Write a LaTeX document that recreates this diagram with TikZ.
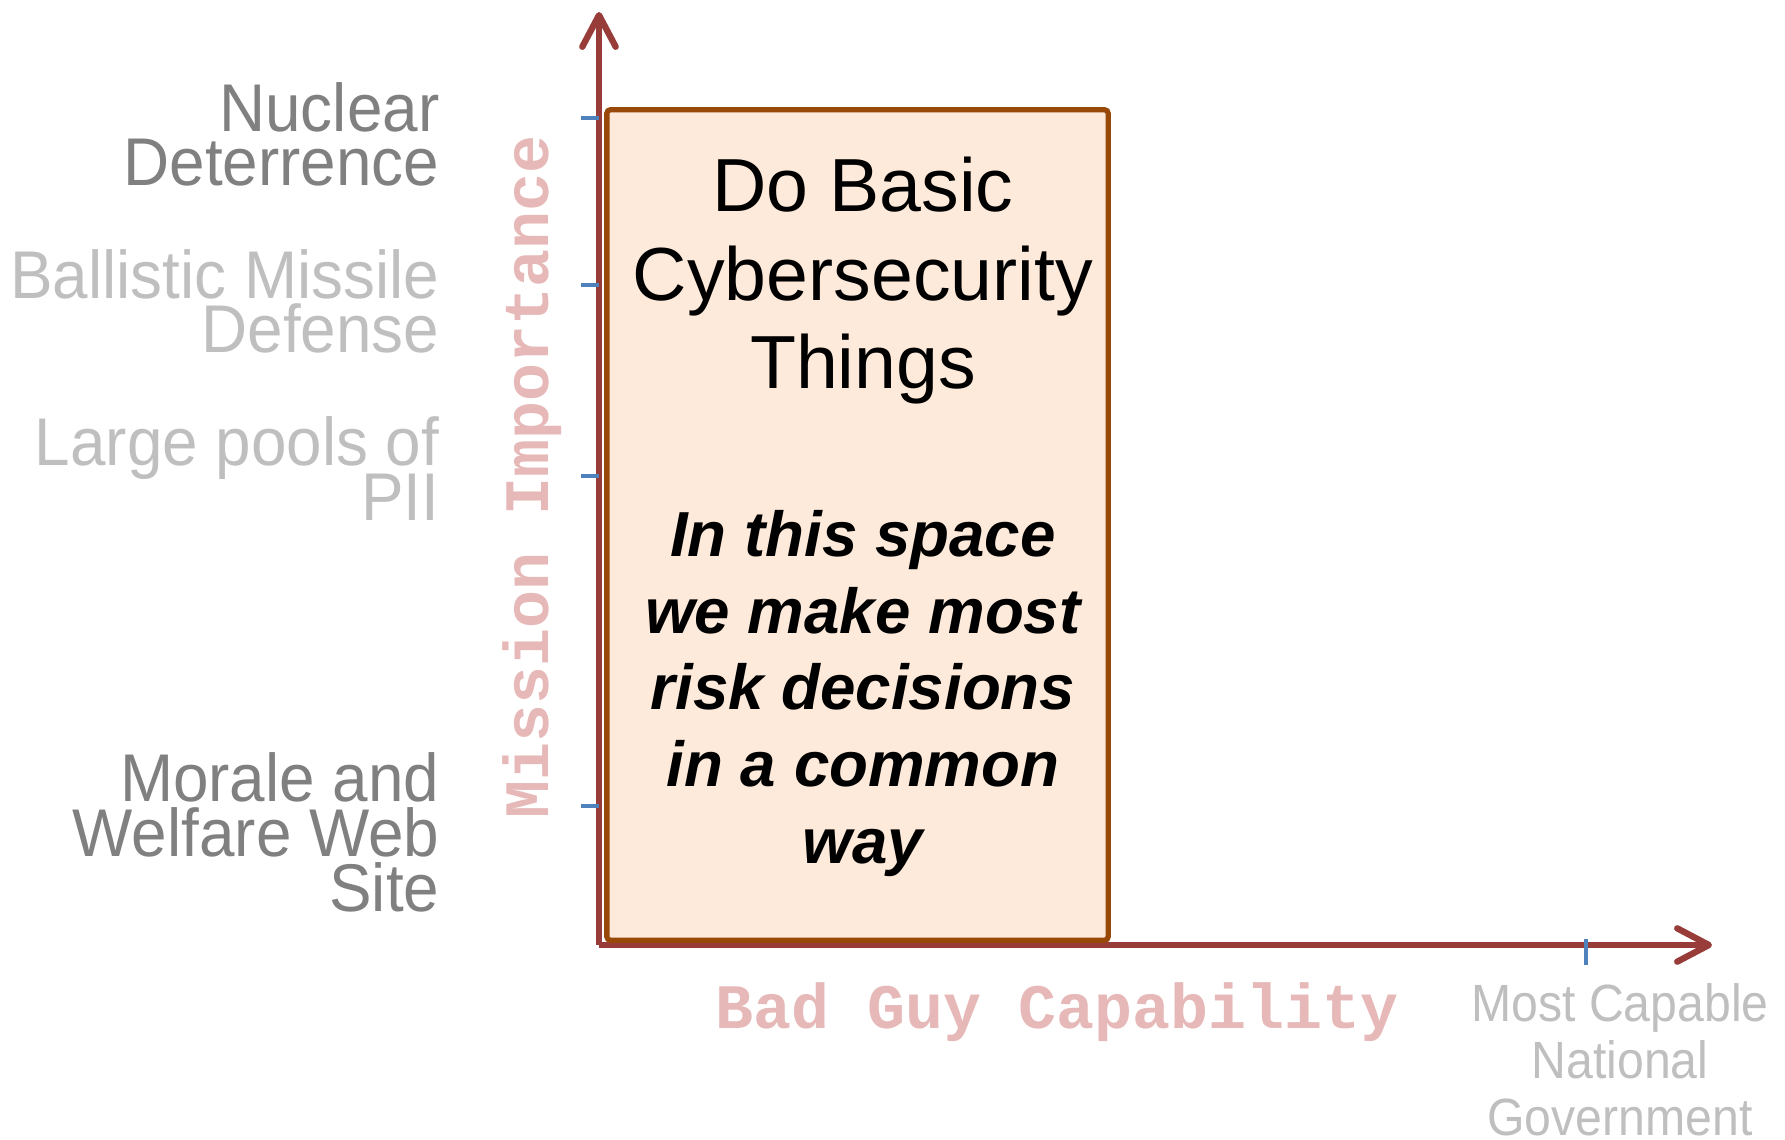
\documentclass[tikz,border=0pt]{standalone}
\usepackage{fontspec}
\setmainfont{Liberation Sans}
\newfontfamily\lvlfont[FakeStretch=0.945]{Liberation Sans}
\newfontfamily\capfont[FakeStretch=0.92]{Liberation Sans}
\newfontfamily\axfont{Liberation Mono}
\usetikzlibrary{arrows.meta}

\definecolor{axisred}{RGB}{152,60,58}
\definecolor{tickblue}{RGB}{79,129,189}
\definecolor{boxbrown}{RGB}{152,72,7}
\definecolor{boxfill}{RGB}{253,234,218}
\definecolor{axpink}{RGB}{230,185,184}
\definecolor{darkgray}{RGB}{128,128,128}
\definecolor{lightgray}{RGB}{191,191,191}

\lineskiplimit=-20pt

\begin{document}
\begin{tikzpicture}[x=0.01cm,y=-0.01cm,
    axis/.style={axisred,line width=1.8pt,-{Straight Barb[length=9pt,width=9.5pt,round]}},
    tickmark/.style={tickblue,line width=1.4pt},
    lvl/.style={anchor=base east,align=right,inner sep=0pt,font=\lvlfont\fontsize{19.2}{15.6}\selectfont},
    axlabel/.style={axpink,inner sep=0pt,font=\axfont\bfseries\fontsize{18}{20}\selectfont},
    zonebox/.style={draw=boxbrown,fill=boxfill,line width=1.5pt,rounded corners=1pt,minimum width=5.01cm,minimum height=8.3cm,inner sep=0pt}]
  \useasboundingbox (0,0) rectangle (1785,1140);
  \coordinate (o) at (599,945);
  \coordinate (ytop) at (599,12);
  \coordinate (xend) at (1712,945);
  \draw[axis] (o) -- (ytop);
  \draw[axis] (o) -- (xend);
  \foreach \y in {118,285,476,806}
    \draw[tickmark] (581,\y) -- (599,\y);
  \draw[tickmark] (1586,939) -- (1586,965);
  % the common space
  \node[zonebox] (zone) at (857.5,525) {};
  \node[anchor=base,align=center,inner sep=0pt,font=\fontsize{21.4}{25.3}\selectfont] (basic) at (863,389) {Do Basic\\Cybersecurity\\Things};
  \node[anchor=base,align=center,inner sep=0pt,font=\bfseries\itshape\fontsize{18.1}{21.8}\selectfont] (note) at (863,863) {In this space\\we make most\\risk decisions\\in a common\\way};
  % mission levels
  \node[lvl,darkgray] (nuc) at (440,186) {Nuclear\\Deterrence};
  \node[lvl,lightgray] (bmd) at (440,353) {Ballistic Missile\\Defense};
  \node[lvl,lightgray] (pii) at (440,520) {Large pools of\\PII};
  \node[lvl,darkgray] (mwr) at (440,911) {Morale and\\Welfare Web\\Site};
  \node[axlabel,rotate=90,anchor=base] (ylab) at (548,477) {Mission Importance};
  \node[axlabel,anchor=base] (xlab) at (1057,1028) {Bad Guy Capability};
  \node[lightgray,anchor=base,align=center,inner sep=0pt,font=\capfont\fontsize{14.9}{16.2}\selectfont] (ncap) at (1620,1135) {Most Capable\\National\\Government};
\end{tikzpicture}
\end{document}
